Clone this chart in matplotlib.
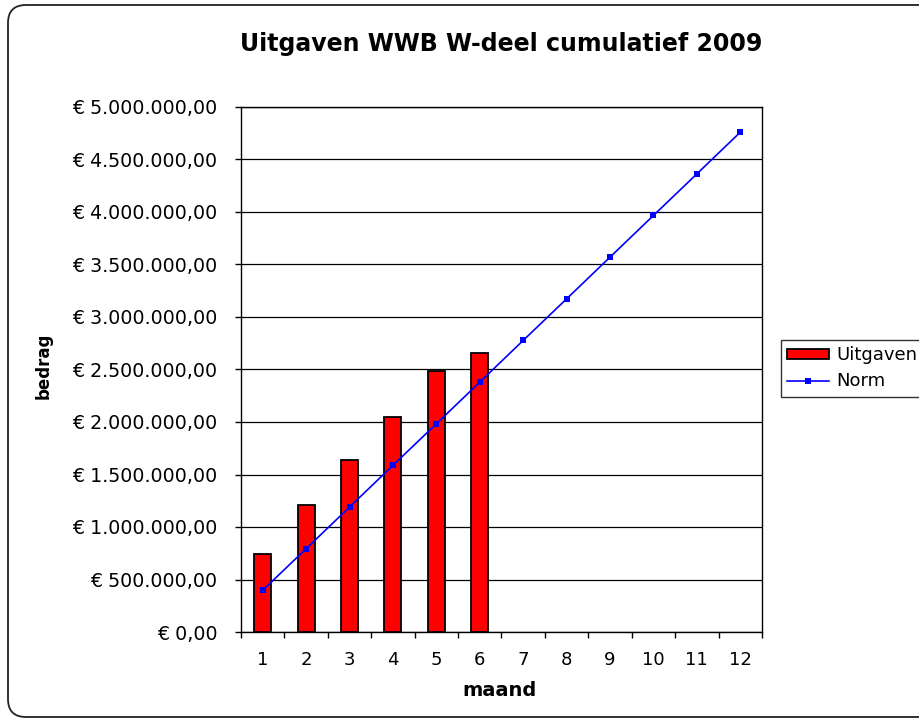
import matplotlib
matplotlib.use("Agg")
import matplotlib.pyplot as plt
import numpy as np
from matplotlib.patches import FancyBboxPatch
from matplotlib.ticker import FuncFormatter
from matplotlib.transforms import IdentityTransform

# data
months = list(range(1, 13))
uitgaven = [743000, 1210000, 1638000, 2048000, 2490000, 2657000]
norm = [397000, 793000, 1190000, 1587000, 1983000, 2380000,
        2777000, 3173000, 3570000, 3967000, 4363000, 4760000]
y_ticks = [0, 500000, 1000000, 1500000, 2000000, 2500000,
           3000000, 3500000, 4000000, 4500000, 5000000]


def euro(v, pos=None):
    s = f"{v:,.2f}"  # 1,234,567.89
    s = s.replace(",", "X").replace(".", ",").replace("X", ".")
    return "€ " + s


fig = plt.figure(figsize=(9.2, 7.22), dpi=100, facecolor='white')

# rounded outer frame
frame = FancyBboxPatch((8, 5), 940, 712, boxstyle='round,pad=0,rounding_size=18',
                       transform=IdentityTransform(), facecolor='none',
                       edgecolor='#222222', linewidth=1.3)
fig.add_artist(frame)

ax = fig.add_axes([241 / 920, 1 - 632 / 722, 521 / 920, 525 / 722])
ax.set_facecolor('white')

bar_x = np.arange(1, len(uitgaven) + 1)
bars = ax.bar(bar_x, uitgaven, width=0.39, color='#FF0000', edgecolor='black',
              linewidth=1.3, label='Uitgaven', zorder=3)
line, = ax.plot(months, norm, '-', color='#0000FF', linewidth=1.2, marker='s',
                markersize=5, markeredgewidth=0, label='Norm', zorder=4)

ax.set_xlim(0.5, 12.5)
ax.set_ylim(0, 5000000)
ax.set_yticks(y_ticks)
ax.yaxis.set_major_formatter(FuncFormatter(euro))
ax.set_xticks(months)
ax.set_xticks(np.arange(0.5, 13, 1), minor=True)
ax.tick_params(axis='x', which='major', length=0, pad=14, labelsize=13)
ax.tick_params(axis='x', which='minor', length=4, width=1, direction='out')
ax.tick_params(axis='y', length=4, width=1, direction='out', pad=13, labelsize=13.7)

ax.grid(True, axis='y', color='black', linewidth=0.9, zorder=1)
ax.set_axisbelow(True)
for sp in ax.spines.values():
    sp.set_color('black')
    sp.set_linewidth(1.0)

ax.set_title('Uitgaven WWB W-deel cumulatief 2009', fontsize=17,
             fontweight='bold', pad=0, y=1 + (107 - 43) / 525 - 0.015)
ax.set_xlabel('maand', fontsize=14, fontweight='bold')
ax.xaxis.set_label_coords(0.497, -0.093)
ax.set_ylabel('bedrag', fontsize=12, fontweight='bold')
ax.yaxis.set_label_coords(-0.361, 0.507)

leg = fig.legend([bars, line], ['Uitgaven', 'Norm'], loc='upper left',
                 bbox_to_anchor=(781 / 920, 1 - 340 / 722),
                 fontsize=13, frameon=True, fancybox=False, edgecolor='black',
                 handlelength=2.3, handleheight=0.5, handletextpad=0.4,
                 labelspacing=0.45, borderpad=0.35, borderaxespad=0)
leg.get_frame().set_linewidth(1.0)

fig.savefig('out.png', dpi=100)
